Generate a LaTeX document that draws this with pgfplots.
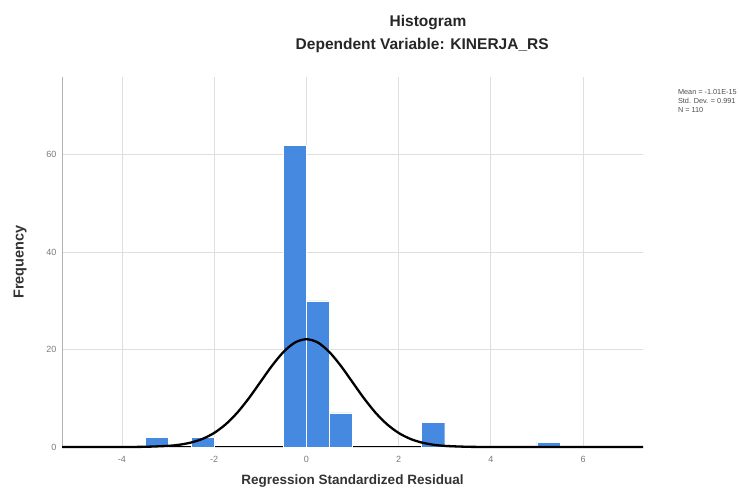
\documentclass[border=0pt]{standalone}
\usepackage{fontspec}
\setmainfont{Liberation Sans}
\usepackage{pgfplots}
\pgfplotsset{compat=1.18}
\definecolor{barblue}{HTML}{4589E0}
\definecolor{tickgray}{HTML}{7A7A7A}
\begin{document}
\begin{tikzpicture}
\begin{axis}[
  scale only axis, width=581pt, height=370pt,
  xmin=-5.3, xmax=7.3, ymin=0, ymax=76,
  axis x line=bottom, axis y line=left,
  axis line style={-},
  y axis line style={draw=gray!60},
  x axis line style={draw=black, line width=1pt},
  xtick={-4,-2,0,2,4,6}, ytick={0,20,40,60},
  grid=major, major grid style={draw=gray!25, line width=0.8pt},
  tick style={draw=none},
  ticklabel style={font=\fontsize{9}{10}\selectfont, text=tickgray},
  xticklabel style={yshift=-4pt},
  /pgf/number format/assume math mode=true,
  xlabel={Regression Standardized Residual},
  ylabel={Frequency},
  xlabel style={at={(axis description cs:0.5,-0.092)}, anchor=center, font=\bfseries\fontsize{13.5}{15}\selectfont, text=black!80},
  ylabel style={at={(axis description cs:-0.072,0.5)}, anchor=center, font=\bfseries\fontsize{14.5}{15}\selectfont, text=black!80},
  clip=false,
]
\addplot[ybar, bar width=0.5, bar shift=0pt, fill=barblue, draw=white, line width=0.4pt] coordinates {
  (-3.25,2) (-2.25,2) (-0.25,62) (0.25,30) (0.75,7) (2.75,5) (5.25,1)
};
\addplot[black, line width=2.3pt, smooth] coordinates {
  (-5.3,0) (-4.5,0.001) (-4,0.006) (-3.5,0.043) (-3,0.23) (-2.75,0.47) (-2.5,0.92)
  (-2.25,1.68) (-2,2.89) (-1.75,4.66) (-1.5,7.04) (-1.25,9.99) (-1,13.31)
  (-0.75,16.63) (-0.5,19.49) (-0.25,21.45) (0,22.14) (0.25,21.45) (0.5,19.49)
  (0.75,16.63) (1,13.31) (1.25,9.99) (1.5,7.04) (1.75,4.66) (2,2.89)
  (2.25,1.68) (2.5,0.92) (2.75,0.47) (3,0.23) (3.5,0.043) (4,0.006) (4.5,0.001)
  (5,0) (6,0) (7.3,0)
};
\node[font=\bfseries\fontsize{15.5}{17}\selectfont, text=black!85] at (axis description cs:0.63,1.146) {Histogram};
\node[font=\bfseries\fontsize{15.5}{17}\selectfont, text=black!85] at (axis description cs:0.62,1.086) {Dependent Variable: KINERJA\_RS};
\node[anchor=north west, align=left, inner sep=0pt, font=\fontsize{7.3}{9}\selectfont, text=black!70] at (axis description cs:1.06,0.968) {Mean = -1.01E-15\\Std. Dev. = 0.991\\N = 110};
\coordinate (bl) at ([xshift=-62pt,yshift=-46pt]rel axis cs:0,0);
\coordinate (tr) at ([xshift=96pt,yshift=77pt]rel axis cs:1,1);
\end{axis}
\pgfresetboundingbox
\path[use as bounding box] (bl) rectangle (tr);
\end{tikzpicture}
\end{document}
